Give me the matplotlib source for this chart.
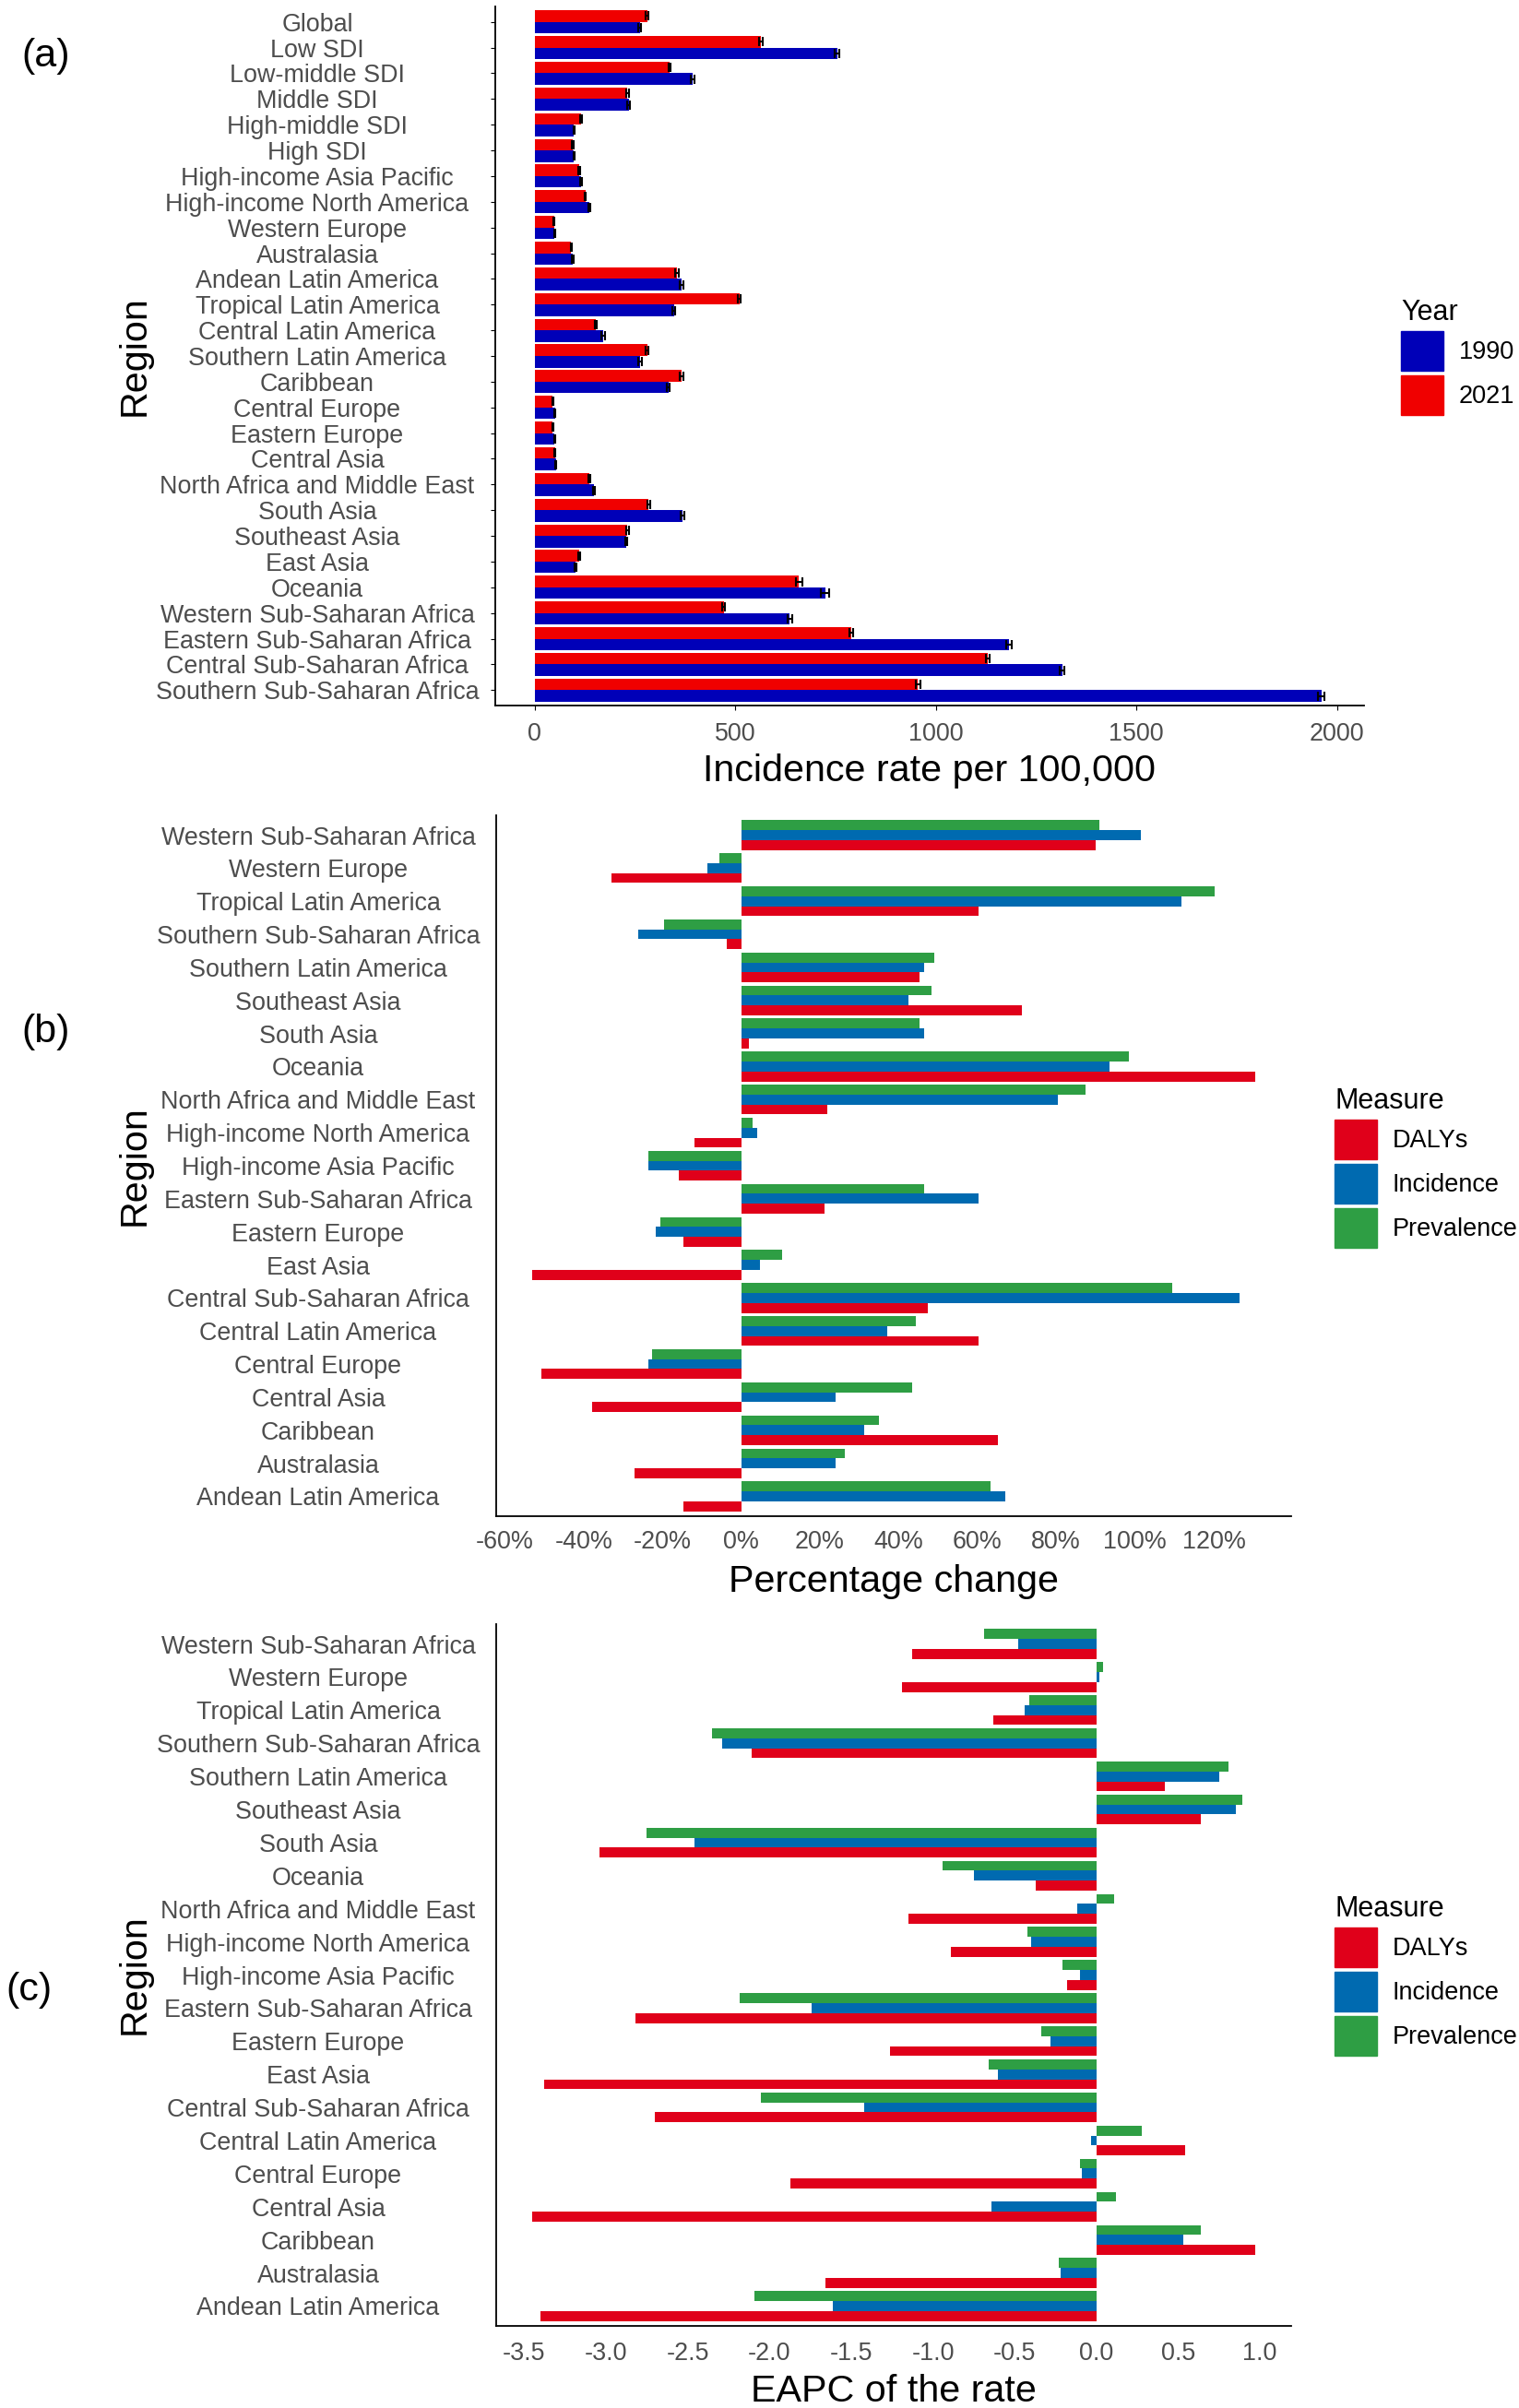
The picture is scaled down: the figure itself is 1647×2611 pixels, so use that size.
import numpy as np
import matplotlib
matplotlib.use("Agg")
import matplotlib.pyplot as plt
from matplotlib.patches import Patch
from matplotlib.ticker import FuncFormatter

plt.rcParams['font.family'] = ['Liberation Sans', 'DejaVu Sans']

# ---- (a) incidence rate per 100,000, 1990 vs 2021 ----
regions_a = ['Global', 'Low SDI', 'Low-middle SDI', 'Middle SDI', 'High-middle SDI',
             'High SDI', 'High-income Asia Pacific', 'High-income North America',
             'Western Europe', 'Australasia', 'Andean Latin America',
             'Tropical Latin America', 'Central Latin America', 'Southern Latin America',
             'Caribbean', 'Central Europe', 'Eastern Europe', 'Central Asia',
             'North Africa and Middle East', 'South Asia', 'Southeast Asia', 'East Asia',
             'Oceania', 'Western Sub-Saharan Africa', 'Eastern Sub-Saharan Africa',
             'Central Sub-Saharan Africa', 'Southern Sub-Saharan Africa']
rate_1990 = [262, 754, 394, 234, 98, 98, 116, 136, 49, 95, 366, 347, 171, 262, 333,
             50, 49, 53, 147, 368, 228, 102, 724, 636, 1182, 1315, 1961]
rate_2021 = [280, 564, 336, 231, 116, 94, 110, 126, 48, 91, 355, 510, 152, 280, 366,
             45, 45, 50, 136, 284, 231, 110, 659, 471, 789, 1129, 955]
err_1990 = [3, 6, 4, 4, 2, 2, 2, 2, 1, 2, 4, 4, 4, 5, 4, 1, 1, 1, 2, 4, 3, 2, 10, 5, 6, 6, 8]
err_2021 = [3, 5, 3, 3, 2, 2, 2, 2, 1, 2, 4, 4, 3, 4, 4, 1, 1, 1, 2, 3, 3, 2, 9, 4, 5, 5, 6]

# ---- (b) percentage change and (c) EAPC, top to bottom ----
regions_bc = ['Western Sub-Saharan Africa', 'Western Europe', 'Tropical Latin America',
              'Southern Sub-Saharan Africa', 'Southern Latin America', 'Southeast Asia',
              'South Asia', 'Oceania', 'North Africa and Middle East',
              'High-income North America', 'High-income Asia Pacific',
              'Eastern Sub-Saharan Africa', 'Eastern Europe', 'East Asia',
              'Central Sub-Saharan Africa', 'Central Latin America', 'Central Europe',
              'Central Asia', 'Caribbean', 'Australasia', 'Andean Latin America']
pct_dalys = [90.1, -32.9, 60.4, -3.7, 45.4, 71.2, 2.0, 130.5, 21.8, -11.8, -15.7,
             21.1, -14.7, -53.0, 47.4, 60.4, -50.8, -37.8, 65.3, -27.0, -14.7]
pct_incidence = [101.4, -8.6, 111.7, -26.0, 46.4, 42.5, 46.4, 93.5, 80.5, 4.2, -23.6,
                 60.4, -21.6, 4.9, 126.6, 37.1, -23.6, 24.0, 31.2, 24.0, 67.2]
pct_prevalence = [91.0, -5.6, 120.2, -19.6, 49.1, 48.3, 45.4, 98.4, 87.4, 2.9, -23.6,
                  46.4, -20.6, 10.3, 109.4, 44.4, -22.6, 43.4, 35.1, 26.3, 63.3]
eapc_dalys = [-1.13, -1.19, -0.63, -2.11, 0.42, 0.64, -3.04, -0.37, -1.15, -0.89, -0.18,
              -2.82, -1.26, -3.38, -2.70, 0.54, -1.87, -3.45, 0.97, -1.66, -3.40]
eapc_incidence = [-0.48, 0.02, -0.44, -2.29, 0.75, 0.85, -2.46, -0.75, -0.12, -0.40, -0.10,
                  -1.74, -0.28, -0.60, -1.42, -0.035, -0.09, -0.64, 0.53, -0.22, -1.61]
eapc_prevalence = [-0.69, 0.04, -0.41, -2.35, 0.81, 0.89, -2.75, -0.94, 0.11, -0.42, -0.21,
                   -2.18, -0.34, -0.66, -2.05, 0.28, -0.10, 0.12, 0.64, -0.23, -2.09]

measures = ['DALYs', 'Incidence', 'Prevalence']

# colours
c_1990, c_2021 = '#0000B8', '#F00000'
c_meas = {'DALYs': '#E0001A', 'Incidence': '#006AB0', 'Prevalence': '#2E9E44'}

TICK_FS = 19.4
TITLE_FS = 29.7
LEG_FS = 19.5
LEG_TITLE_FS = 22
GREY = '#4D4D4D'
PX = 72 / 100  # pixels -> points at dpi 100

W, H = 1647, 2611
fig = plt.figure(figsize=(W / 100, H / 100), dpi=100)


def axes_px(left, top, right, bottom):
    return fig.add_axes([left / W, 1 - bottom / H, (right - left) / W, (bottom - top) / H])


def style(ax, ytick_len):
    for s in ['top', 'right']:
        ax.spines[s].set_visible(False)
    for s in ['left', 'bottom']:
        ax.spines[s].set_linewidth(1.3)
    ax.tick_params(axis='both', labelsize=TICK_FS, labelcolor=GREY)
    # y labels are centred at x=345 px, like ggplot's hjust=0.5
    ax.tick_params(axis='y', length=ytick_len, pad=193 * PX - ytick_len)
    for lab in ax.get_yticklabels():
        lab.set_horizontalalignment('center')


def legend(ax, handles, title, x_px, y_px):
    leg = ax.legend(handles=handles, title=title, loc='center left',
                    bbox_to_anchor=(x_px / W, 1 - y_px / H), bbox_transform=fig.transFigure,
                    frameon=False, fontsize=LEG_FS, title_fontsize=LEG_TITLE_FS,
                    handlelength=1.7, handleheight=2.07, handletextpad=0.6,
                    labelspacing=0.18, alignment='left')
    return leg


# ---------------- panel (a) ----------------
ax1 = axes_px(537, 7, 1479, 765)
n = len(regions_a)
y = np.arange(n)[::-1]
h = 0.45
ax1.barh(y - h / 2, rate_1990, height=h, color=c_1990)
ax1.barh(y + h / 2, rate_2021, height=h, color=c_2021)
ax1.errorbar(rate_1990, y - h / 2, xerr=err_1990, fmt='none', ecolor='black',
             elinewidth=1.5, capsize=3.5, capthick=1.5)
ax1.errorbar(rate_2021, y + h / 2, xerr=err_2021, fmt='none', ecolor='black',
             elinewidth=1.5, capsize=3.5, capthick=1.5)
xmax = max(np.add(rate_1990, err_1990).max(), np.add(rate_2021, err_2021).max())
ax1.set_xlim(-0.05 * xmax, 1.05 * xmax)
ax1.set_ylim(-0.6, n - 0.4)
ax1.set_yticks(y)
ax1.set_yticklabels(regions_a)
ax1.set_xticks([0, 500, 1000, 1500, 2000])
style(ax1, 3.6)
ax1.tick_params(axis='x', length=3.6, pad=9.5)
ax1.set_xlabel('Incidence rate per 100,000', fontsize=TITLE_FS, labelpad=5.5)
legend(ax1, [Patch(color=c_1990, label='1990'), Patch(color=c_2021, label='2021')],
       'Year', 1495, 387)


# ---------------- panels (b) and (c) ----------------
def measure_panel(top, bottom, dalys, inc, prev, xlab, fmt, ticks, leg_y, tpad, lpad):
    ax = axes_px(538, top, 1400, bottom)
    m = len(regions_bc)
    yy = np.arange(m)[::-1]
    hh = 0.3
    ax.barh(yy - hh, dalys, height=hh, color=c_meas['DALYs'])
    ax.barh(yy, inc, height=hh, color=c_meas['Incidence'])
    ax.barh(yy + hh, prev, height=hh, color=c_meas['Prevalence'])
    allv = np.concatenate([dalys, inc, prev, [0]])
    lo, hi = allv.min(), allv.max()
    pad = 0.05 * (hi - lo)
    ax.set_xlim(lo - pad, hi + pad)
    ax.set_ylim(-0.6, m - 0.4)
    ax.set_yticks(yy)
    ax.set_yticklabels(regions_bc)
    ax.set_xticks(ticks)
    ax.xaxis.set_major_formatter(FuncFormatter(fmt))
    style(ax, 0)
    ax.tick_params(axis='x', length=0, pad=tpad)
    ax.set_xlabel(xlab, fontsize=TITLE_FS, labelpad=lpad)
    legend(ax, [Patch(color=c_meas[k], label=k) for k in measures], 'Measure', 1423, leg_y)
    return ax


ax2 = measure_panel(884, 1644, pct_dalys, pct_incidence, pct_prevalence,
                    'Percentage change', lambda v, p: f'{v:.0f}%',
                    np.arange(-60, 121, 20), 1266, 11, 8)
ax3 = measure_panel(1761, 2522, eapc_dalys, eapc_incidence, eapc_prevalence,
                    'EAPC of the rate', lambda v, p: f'{v:.1f}',
                    np.arange(-3.5, 1.01, 0.5), 2142, 12, 6.5)

# y axis titles and panel letters
for ax, yc in [(ax1, 386), (ax2, 1264), (ax3, 2141)]:
    fig.text(146 / W, 1 - yc / H, 'Region', rotation=90, ha='center', va='center',
             fontsize=TITLE_FS)
for lab, xc, yc in [('(a)', 50, 61), ('(b)', 50, 1119), ('(c)', 31, 2158)]:
    fig.text(xc / W, 1 - yc / H, lab, ha='center', va='center', fontsize=31)

fig.savefig('out.png', dpi=100)
